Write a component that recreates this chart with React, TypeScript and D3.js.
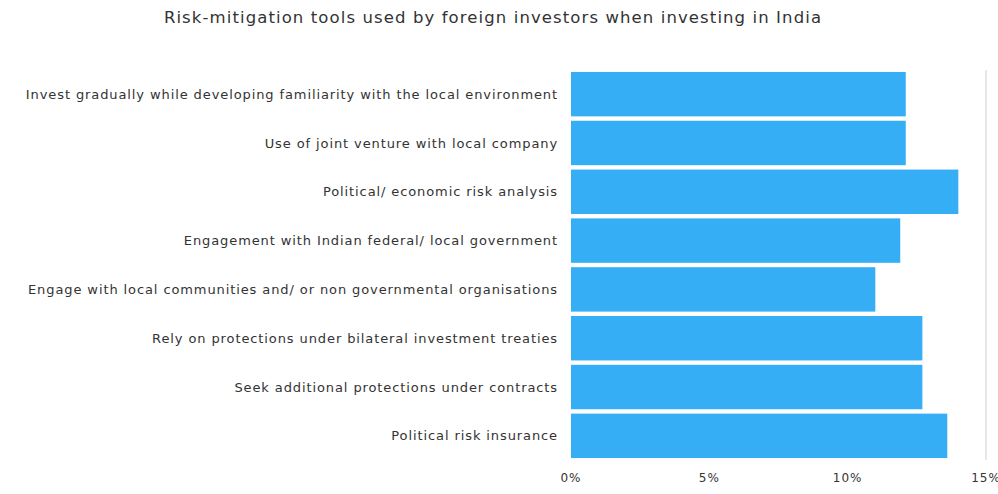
import React, { useRef, useEffect } from 'react';
import * as d3 from 'd3';

const title = 'Risk-mitigation tools used by foreign investors when investing in India';

const categories = [
  'Invest gradually while developing familiarity with the local environment',
  'Use of joint venture with local company',
  'Political/ economic risk analysis',
  'Engagement with Indian federal/ local government',
  'Engage with local communities and/ or non governmental organisations',
  'Rely on protections under bilateral investment treaties',
  'Seek additional protections under contracts',
  'Political risk insurance',
];

const values = [12.1, 12.1, 14.0, 11.9, 11.0, 12.7, 12.7, 13.6];

const xTicks = [0, 5, 10, 15];

const App: React.FC = () => {
  const ref = useRef<SVGSVGElement>(null);

  useEffect(() => {
    const height = 494;
    const margin = { top: 70, right: 12, bottom: 34, left: 571 };

    const svg = d3.select(ref.current);
    svg.selectAll('*').remove();

    const x = d3
      .scaleLinear()
      .domain([0, 15])
      .range([margin.left, 986]);

    const y = d3
      .scaleBand<string>()
      .domain(categories)
      .range([margin.top, height - margin.bottom])
      .paddingInner(0.09)
      .paddingOuter(0.04);

    svg
      .append('text')
      .attr('x', 493)
      .attr('y', 23)
      .attr('text-anchor', 'middle')
      .attr('font-size', 16.5)
      .attr('letter-spacing', 1.1)
      .attr('fill', '#333')
      .text(title);

    // right edge reference line
    svg
      .append('line')
      .attr('x1', x(15))
      .attr('x2', x(15))
      .attr('y1', margin.top)
      .attr('y2', height - margin.bottom)
      .attr('stroke', '#cfcfcf')
      .attr('stroke-width', 1);

    svg
      .append('g')
      .selectAll('rect')
      .data(values)
      .join('rect')
      .attr('x', x(0))
      .attr('y', (_d, i) => y(categories[i]) as number)
      .attr('width', (d) => x(d) - x(0))
      .attr('height', y.bandwidth())
      .attr('fill', '#36aef6');

    svg
      .append('g')
      .selectAll('text')
      .data(categories)
      .join('text')
      .attr('x', 558)
      .attr('y', (d) => (y(d) as number) + y.bandwidth() / 2)
      .attr('dy', '0.35em')
      .attr('text-anchor', 'end')
      .attr('font-size', 13)
      .attr('letter-spacing', 0.9)
      .attr('fill', '#333')
      .text((d) => d);

    svg
      .append('g')
      .selectAll('text')
      .data(xTicks)
      .join('text')
      .attr('x', (d) => x(d))
      .attr('y', 482)
      .attr('text-anchor', 'middle')
      .attr('font-size', 12)
      .attr('letter-spacing', 1)
      .attr('fill', '#333')
      .text((d) => `${d}%`);
  }, []);

  return (
    <svg
      ref={ref}
      width={998}
      height={494}
      style={{ position: 'absolute', left: 0, top: 0, fontFamily: '"DejaVu Sans", sans-serif', background: '#fff' }}
    />
  );
};

export default App;
